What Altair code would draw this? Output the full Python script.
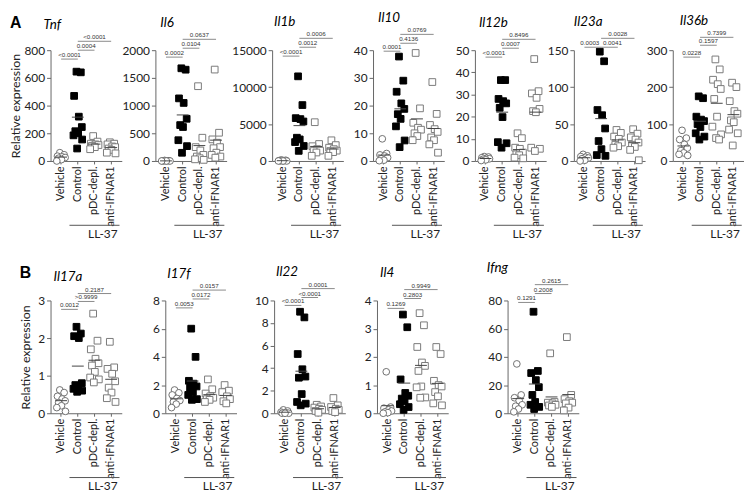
import altair as alt
import pandas as pd

GROUPS = ["Vehicle", "Control", "pDC-depl.", "anti-IFNAR1"]
ROW_A = ["Tnf", "Il6", "Il1b", "Il10", "Il12b", "Il23a", "Il36b"]
ROW_B = ["Il17a", "I17f", "Il22", "Il4", "Ifng"]

# values per gene, in group order: Vehicle, Control, pDC-depl., anti-IFNAR1
TNF = [[60, 45, 35, 30, 25, 20, 10, 0],
       [645, 640, 470, 320, 245, 215, 200, 185, 155, 90],
       [180, 140, 125, 120, 115, 110, 100, 85],
       [135, 125, 120, 105, 100, 90, 80, 60, 55]]
IL6 = [[10, 5, 0, 0, 0, 0, 0, 0],
       [1673, 1648, 1130, 1048, 762, 648, 613, 375, 268, 148],
       [1350, 420, 250, 190, 110, 80, 50, 30, 20],
       [1650, 510, 390, 330, 250, 230, 150, 110, 80, 60]]
IL1B = [[150, 100, 50, 20, 0, 0, 0, 0],
        [11460, 7570, 5800, 5670, 5350, 3150, 2920, 2560, 2030, 1370],
        [5250, 2300, 2000, 1600, 1400, 1350, 1150, 700],
        [2800, 2150, 1800, 1600, 1400, 1350, 1200, 700]]
IL10 = [[8, 2.7, 2.2, 1.8, 1.2, 0.8, 0.3, 0.1],
        [37.7, 29, 25, 20.8, 18.8, 16.9, 15.2, 12.5, 7.4, 5],
        [39, 19, 13.8, 12, 11.3, 10, 9, 7.5],
        [28.5, 17, 13, 11.5, 10.5, 8.5, 7.5, 6, 3]]
IL12B = [[2.0, 1.8, 1.5, 1.2, 1.0, 0.8, 0.5, 0.2],
         [36.5, 36.5, 28, 27, 26, 24, 19.8, 8.5, 8, 6],
         [12.5, 10.3, 6, 5.5, 3.8, 3, 2.6, 1.5, 1.2],
         [46, 31.5, 30.5, 28.5, 23.5, 22.5, 22, 6, 5.5, 4.5]]
IL23A = [[9, 7, 6, 5, 4, 3, 1, 0],
         [148, 135, 69, 62, 44, 27, 16, 8, 7],
         [42, 38, 33, 30, 25, 22, 20, 18],
         [43, 37, 32, 29, 25, 22, 19, 15, 1]]
IL36B = [[83, 62, 58, 45, 35, 28, 22, 18, 15],
         [175, 170, 120, 112, 108, 100, 92, 75, 66, 58],
         [275, 248, 220, 208, 195, 168, 120, 93, 72, 62, 58],
         [212, 200, 162, 135, 128, 110, 105, 85, 75, 42]]
IL17A = [[0.62, 0.55, 0.45, 0.38, 0.33, 0.28, 0.2, 0.15, 0.05],
         [2.3, 2.12, 2.05, 2.0, 0.8, 0.75, 0.7, 0.65, 0.6, 0.57],
         [2.65, 1.93, 1.7, 1.45, 1.33, 1.27, 1.1, 0.95, 0.9, 0.82],
         [1.9, 1.22, 1.18, 1.05, 0.85, 0.68, 0.55, 0.4, 0.3]]
I17F = [[1.65, 1.45, 1.3, 1.05, 0.9, 0.8, 0.65, 0.4],
        [6.0, 4.0, 2.3, 2.1, 1.9, 1.8, 1.5, 1.3, 1.0, 0.95],
        [2.4, 1.7, 1.4, 1.2, 1.1, 1.0, 0.95, 0.8],
        [2.0, 1.6, 1.5, 1.2, 1.0, 0.85, 0.7]]
IL22 = [[0.3, 0.2, 0.1, 0.05, 0, 0, 0],
        [9.0, 8.5, 5.25, 3.9, 3.25, 3.15, 1.7, 1.0, 0.85, 0.7],
        [0.75, 0.6, 0.5, 0.4, 0.3, 0.2, 0.05],
        [1.35, 0.7, 0.55, 0.4, 0.3, 0.2, 0.1]]
IL4 = [[1.47, 0.22, 0.18, 0.12, 0.08, 0.05, 0.02, 0.0],
       [3.5, 3.05, 1.2, 0.72, 0.62, 0.52, 0.42, 0.32, 0.22, 0.12],
       [3.55, 3.12, 2.35, 1.8, 1.68, 1.5, 0.95, 0.92, 0.56, 0.55],
       [2.35, 2.1, 1.15, 1.0, 0.95, 0.75, 0.6, 0.35, 0.28]]
IFNG = [[35, 13, 11, 9, 6, 5, 3, 1],
        [72, 30, 28.5, 23.5, 18.5, 13, 8, 6, 4.5, 3],
        [42.5, 8, 7.5, 7, 6, 5.5, 4.5],
        [54, 13, 10, 8.5, 7.5, 7, 4, 2]]

VALUES = {"Tnf": TNF, "Il6": IL6, "Il1b": IL1B, "Il10": IL10, "Il12b": IL12B,
          "Il23a": IL23A, "Il36b": IL36B, "Il17a": IL17A, "I17f": I17F,
          "Il22": IL22, "Il4": IL4, "Ifng": IFNG}

Y_MAX = {"Tnf": 800, "Il6": 2000, "Il1b": 15000, "Il10": 40, "Il12b": 50,
         "Il23a": 150, "Il36b": 300, "Il17a": 3, "I17f": 8, "Il22": 10,
         "Il4": 4, "Ifng": 80}
Y_STEP = {"Tnf": 200, "Il6": 500, "Il1b": 5000, "Il10": 10, "Il12b": 10,
          "Il23a": 50, "Il36b": 100, "Il17a": 1, "I17f": 2, "Il22": 2,
          "Il4": 1, "Ifng": 20}

# p-values: Vehicle vs Control, Control vs pDC-depl., Control vs anti-IFNAR1
P_VALUES = {"Tnf": ["<0.0001", "0.0004", "<0.0001"],
            "Il6": ["0.0002", "0.0104", "0.0637"],
            "Il1b": ["<0.0001", "0.0012", "0.0006"],
            "Il10": ["0.0001", "0.4136", "0.0769"],
            "Il12b": ["<0.0001", "0.0007", "0.8496"],
            "Il23a": ["0.0003", "0.0041", "0.0028"],
            "Il36b": ["0.0228", "0.1597", "0.7399"],
            "Il17a": ["0.0012", ">0.9999", "0.2187"],
            "I17f": ["0.0053", "0.0172", "0.0157"],
            "Il22": ["<0.0001", "<0.0001", "0.0001"],
            "Il4": ["0.1269", "0.2803", "0.9949"],
            "Ifng": ["0.1291", "0.2008", "0.2615"]}
COMPARISONS = [("Vehicle", "Control"), ("Control", "pDC-depl."), ("Control", "anti-IFNAR1")]
TREATMENT = "LL-37"

# ---------------- layout / style (not data) ----------------
W = 72
H = {"A": 112, "B": 114}
PAD_OUTER = 0.135
STEP = W / (4 + 2 * PAD_OUTER)
AX_EXT = {"Tnf": 24, "Il6": 30, "Il1b": 46, "Il10": 30, "Il12b": 31, "Il23a": 28, "Il36b": 28,
          "Il17a": 14, "I17f": 44, "Il22": 38, "Il4": 32, "Ifng": 60}
TITLE_DX = {"Tnf": -7, "Il6": 5, "Il1b": 2, "Il10": 5, "Il12b": 4, "Il23a": 0, "Il36b": 7,
            "Il17a": 3, "I17f": 2, "Il22": 2, "Il4": 3, "Ifng": -21}
BAR_PX = {"Tnf": [-9, 0, 9], "Il6": [-7, 2, 11], "Il1b": [-6, 3, 12], "Il10": [-1, 7, 16],
          "Il12b": [-7, 2, 11], "Il23a": [3, 3, 12], "Il36b": [-7, 5, 13],
          "Il17a": [-9, -1, 7], "I17f": [-7.5, 1.5, 10.5], "Il22": [-5, 3, 12],
          "Il4": [-8, 2, 11], "Ifng": [-2, 7, 16]}
TEXT_DX = {"Il23a": [-3, 3, 0]}
TEXT_ANCHOR = [("Vehicle", 1.0), ("Control", 1.0), ("pDC-depl.", 0.5)]
LL_LINE_PX = {"A": 65, "B": 65}
LL_TEXT_PX = {"A": 74, "B": 74}
JIT = [-0.08, 0.18, -0.22, 0.06, 0.24, -0.15, 0.02, -0.26, 0.26, -0.04, 0.14]
FONT = "Lato"


def panel(gene, row, first):
    h = H[row]
    ymax = Y_MAX[gene]
    ticks = [i * Y_STEP[gene] for i in range(int(round(ymax / Y_STEP[gene])) + 1)]
    xscale = alt.Scale(domain=GROUPS, paddingInner=0, paddingOuter=PAD_OUTER)
    xaxis = alt.Axis(title=None, labelAngle=-90, labelPadding=2, tickSize=3, labelFontSize=11)
    yscale = alt.Scale(domain=[0, ymax], nice=False, zero=True)
    if first:
        yaxis = alt.Axis(values=ticks, format="d", title="Relative expression", titlePadding=4,
                         minExtent=AX_EXT[gene], maxExtent=AX_EXT[gene])
    else:
        yaxis = alt.Axis(values=ticks, format="d", title=None,
                         minExtent=AX_EXT[gene], maxExtent=AX_EXT[gene])

    def X(field, bp=0.5):
        return alt.X(field, type="nominal", scale=xscale, axis=xaxis, bandPosition=bp)

    def Y(field):
        return alt.Y(field, type="quantitative", scale=yscale, axis=yaxis)

    rows = []
    for g, vals in zip(GROUPS, VALUES[gene]):
        for i, v in enumerate(vals):
            rows.append({"group": g, "value": v, "jit": JIT[i % len(JIT)]})
    df = pd.DataFrame(rows)

    pts = alt.Chart(df).mark_point(filled=True, size=46, strokeWidth=1, opacity=1).encode(
        x=X("group"),
        xOffset=alt.XOffset("jit:Q", scale=alt.Scale(domain=[-0.5, 0.5], range=[0, STEP])),
        y=Y("value"),
        shape=alt.Shape("group:N", scale=alt.Scale(domain=GROUPS, range=["circle", "square", "square", "square"]), legend=None),
        fill=alt.Fill("group:N", scale=alt.Scale(domain=GROUPS, range=["white", "black", "white", "white"]), legend=None),
        stroke=alt.Stroke("group:N", scale=alt.Scale(domain=GROUPS, range=["#707070", "black", "#7a7a7a", "#7a7a7a"]), legend=None),
    )
    mean = alt.Chart(df).mark_tick(orient="horizontal", size=12, thickness=1, color="#444").encode(
        x=X("group"), y=Y("mean(value)"))

    layers = [pts, mean]
    tdx = TEXT_DX.get(gene, [0, 0, 0])
    for k, ((g1, g2), p) in enumerate(zip(COMPARISONS, P_VALUES[gene])):
        yv = ymax * (1 + BAR_PX[gene][k] / h)
        adf = pd.DataFrame([{"group": g1, "group2": g2, "y": yv, "label": p,
                             "mid": TEXT_ANCHOR[k][0]}])
        layers.append(alt.Chart(adf).mark_rule(color="#8a8a8a", strokeWidth=1).encode(
            x=X("group"), x2=alt.X2("group2", bandPosition=0.5), y=Y("y")))
        layers.append(alt.Chart(adf).mark_text(font="Liberation Sans", fontSize=6.3, color="#333",
                                               baseline="bottom", dy=-1, dx=tdx[k]).encode(
            x=X("mid", TEXT_ANCHOR[k][1]), y=Y("y"), text="label:N"))

    ldf = pd.DataFrame([{"group": GROUPS[1], "group2": GROUPS[3], "mid": GROUPS[2],
                         "y": -ymax * LL_LINE_PX[row] / h, "yt": -ymax * LL_TEXT_PX[row] / h,
                         "label": TREATMENT}])
    layers.append(alt.Chart(ldf).mark_rule(color="#555", strokeWidth=1).encode(
        x=X("group", 0), x2=alt.X2("group2", bandPosition=1), y=Y("y")))
    layers.append(alt.Chart(ldf).mark_text(font=FONT, fontSize=12, color="#222", baseline="middle").encode(
        x=X("mid", 1), y=Y("yt"), text="label:N"))

    return alt.layer(*layers).properties(
        width=W, height=h,
        title=alt.TitleParams(gene, anchor="start", frame="group", fontStyle="italic", fontSize=13.5,
                              font=FONT, fontWeight="normal", dx=TITLE_DX[gene], offset=3, color="black"))


def row_chart(genes, row):
    panels = [panel(g, row, i == 0) for i, g in enumerate(genes)]
    return alt.hconcat(*panels, spacing=0, title=alt.TitleParams(
        row, anchor="start", frame="bounds", fontSize=16, fontWeight="bold",
        font="Liberation Sans", color="black", offset=-20)).resolve_scale(x="independent", y="independent")


chart = alt.vconcat(row_chart(ROW_A, "A"), row_chart(ROW_B, "B"), spacing=21,
                    padding={"left": 2, "top": 0, "right": 0, "bottom": 0}).configure_view(
    stroke=None
).configure_axis(
    domainColor="#666", tickColor="#666", labelColor="#222", labelFont=FONT, labelFontSize=12,
    titleFont=FONT, titleFontSize=12.5, titleFontWeight="normal", titleColor="#222",
    grid=False, tickSize=4, labelPadding=2
)

chart.save("out.html", embed_options={"renderer": "svg", "actions": False})
